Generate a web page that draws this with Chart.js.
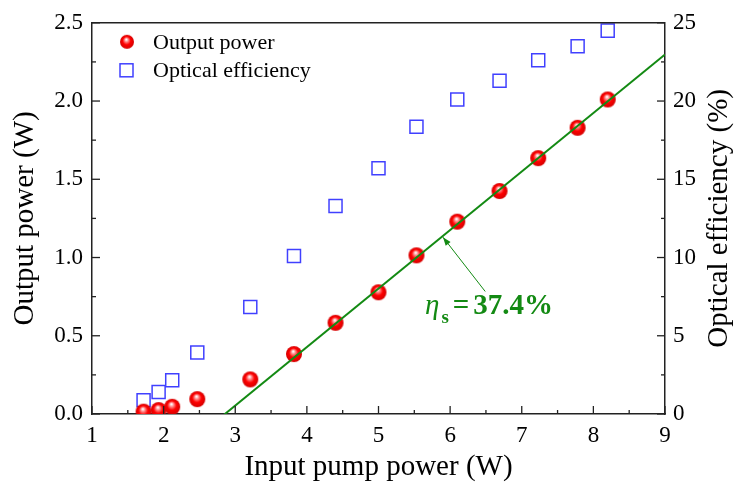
<!DOCTYPE html>
<html>
<head>
<meta charset="utf-8">
<script src="https://cdn.jsdelivr.net/npm/chart.js@4.4.1/dist/chart.umd.min.js"></script>
<style>
  html, body { margin: 0; padding: 0; background: #fff; }
  #wrap { width: 734px; height: 488px; }
</style>
</head>
<body>
<div id="wrap"><canvas id="chart"></canvas></div>
<script>
// values
const pumpPower = [1.72, 1.93, 2.12, 2.47, 3.21, 3.82, 4.40, 5.00, 5.53, 6.10, 6.69, 7.23, 7.78, 8.20];
const outputPower = [0.015, 0.025, 0.046, 0.095, 0.221, 0.383, 0.583, 0.778, 1.014, 1.229, 1.425, 1.635, 1.829, 2.01];
const opticalEff = [0.88, 1.41, 2.15, 3.93, 6.84, 10.1, 13.3, 15.7, 18.35, 20.1, 21.3, 22.6, 23.5, 24.5];
const fitX = [2.8, 9];
const fitY = [-0.021, 2.298];
const fitLabel = '37.4%';

const serif = '"Liberation Serif", "Times New Roman", serif';
const green = '#138a13';
const blue = '#4040ff';
const redSer = 'Output power';
const blueSer = 'Optical efficiency';

// shaded sphere used as point style
function makeSphere(r) {
  const c = document.createElement('canvas');
  c.width = c.height = r * 2 + 2;
  const g = c.getContext('2d');
  const cx = r + 1, cy = r + 1;
  const grad = g.createRadialGradient(cx - r * 0.1, cy - r * 0.35, r * 0.05, cx, cy, r);
  grad.addColorStop(0, '#ffffff');
  grad.addColorStop(0.25, '#ff8080');
  grad.addColorStop(0.55, '#ff0000');
  grad.addColorStop(1, '#d40000');
  g.fillStyle = grad;
  g.beginPath();
  g.arc(cx, cy, r, 0, Math.PI * 2);
  g.fill();
  return c;
}
const sphere = makeSphere(8);
const legendSphere = makeSphere(7);

const xy = (xs, ys) => xs.map((x, i) => ({ x: x, y: ys[i] }));

// inward major/minor ticks, top frame line
const frameTicks = {
  id: 'frameTicks',
  afterDraw(chart) {
    const ctx = chart.ctx;
    const a = chart.chartArea;
    ctx.save();
    ctx.strokeStyle = '#222';
    ctx.lineWidth = 1.5;
    ctx.beginPath();
    ctx.moveTo(a.left, a.top);
    ctx.lineTo(a.right, a.top);
    ctx.stroke();
    ctx.lineWidth = 1.3;
    ['x', 'y', 'y2'].forEach(id => {
      const s = chart.scales[id];
      s.ticks.forEach(t => {
        const len = t.label !== '' ? 8 : 4;
        const p = s.getPixelForValue(t.value);
        ctx.beginPath();
        if (id === 'x') { ctx.moveTo(p, a.bottom); ctx.lineTo(p, a.bottom - len); }
        else if (id === 'y') { ctx.moveTo(a.left, p); ctx.lineTo(a.left + len, p); }
        else { ctx.moveTo(a.right, p); ctx.lineTo(a.right - len, p); }
        ctx.stroke();
      });
    });
    ctx.restore();
  }
};

// legend, right title, slope annotation
const extras = {
  id: 'extras',
  afterDraw(chart) {
    const ctx = chart.ctx;
    const a = chart.chartArea;
    const sx = chart.scales.x, sy = chart.scales.y;
    ctx.save();

    // legend
    ctx.font = '22px ' + serif;
    ctx.fillStyle = '#000';
    ctx.textBaseline = 'middle';
    ctx.drawImage(legendSphere, a.left + 35 - legendSphere.width / 2, a.top + 19 - legendSphere.height / 2);
    ctx.fillText(redSer, a.left + 61, a.top + 20);
    ctx.strokeStyle = blue;
    ctx.lineWidth = 1.5;
    ctx.strokeRect(a.left + 28, a.top + 41, 13, 13);
    ctx.fillText(blueSer, a.left + 61, a.top + 48);

    // right axis title, reading bottom to top
    ctx.save();
    ctx.translate(chart.width - 15, (a.top + a.bottom) / 2);
    ctx.rotate(-Math.PI / 2);
    ctx.textAlign = 'center';
    ctx.font = '29px ' + serif;
    ctx.fillText('Optical efficiency (%)', 0, 0);
    ctx.restore();

    // arrow to the fit line
    const tx = sx.getPixelForValue(6.49), ty = sy.getPixelForValue(0.783);
    const hx = sx.getPixelForValue(5.9), hy = sy.getPixelForValue(1.13);
    ctx.strokeStyle = green;
    ctx.fillStyle = green;
    ctx.lineWidth = 1;
    ctx.beginPath();
    ctx.moveTo(tx, ty);
    ctx.lineTo(hx, hy);
    ctx.stroke();
    const ang = Math.atan2(hy - ty, hx - tx);
    ctx.beginPath();
    ctx.moveTo(hx, hy);
    ctx.lineTo(hx - 9 * Math.cos(ang - 0.35), hy - 9 * Math.sin(ang - 0.35));
    ctx.lineTo(hx - 9 * Math.cos(ang + 0.35), hy - 9 * Math.sin(ang + 0.35));
    ctx.closePath();
    ctx.fill();

    // eta_s = 37.4%
    let px = sx.getPixelForValue(5.65);
    const py = sy.getPixelForValue(0.638);
    ctx.textBaseline = 'alphabetic';
    ctx.textAlign = 'left';
    ctx.font = 'italic 29px ' + serif;
    ctx.fillText('\u03B7', px, py);
    px += ctx.measureText('\u03B7').width + 2;
    ctx.font = 'bold 19px ' + serif;
    ctx.fillText('s', px, py + 9);
    px += ctx.measureText('s').width + 4;
    ctx.font = 'bold 29px ' + serif;
    ctx.fillText('=', px, py);
    px += ctx.measureText('=').width + 4;
    ctx.fillText(fitLabel, px, py);

    ctx.restore();
  }
};

const tickFont = { family: serif, size: 23 };

new Chart(document.getElementById('chart'), {
  type: 'scatter',
  data: {
    datasets: [
      {
        label: 'fit',
        type: 'line',
        data: xy(fitX, fitY),
        borderColor: green,
        borderWidth: 2,
        pointRadius: 0,
        yAxisID: 'y',
        order: 0
      },
      {
        label: redSer,
        data: xy(pumpPower, outputPower),
        pointStyle: sphere,
        pointRadius: 8,
        yAxisID: 'y',
        order: 1
      },
      {
        label: blueSer,
        data: xy(pumpPower, opticalEff),
        pointStyle: 'rect',
        pointRadius: 9.2,
        borderColor: blue,
        backgroundColor: 'rgba(0,0,0,0)',
        borderWidth: 1.5,
        yAxisID: 'y2',
        order: 2
      }
    ]
  },
  options: {
    responsive: true,
    maintainAspectRatio: false,
    animation: false,
    devicePixelRatio: 1,
    layout: { padding: { top: 18, left: 0, right: 0, bottom: 0 } },
    plugins: { legend: { display: false }, tooltip: { enabled: false } },
    scales: {
      x: {
        type: 'linear',
        position: 'bottom',
        min: 1,
        max: 9,
        afterFit: s => { s.height = 74; },
        grid: { display: false, drawTicks: false },
        border: { display: true, color: '#222', width: 1.5 },
        ticks: {
          stepSize: 0.5,
          autoSkip: false,
          maxRotation: 0,
          padding: 8,
          color: '#000',
          font: tickFont,
          callback: v => Number.isInteger(v) ? String(v) : ''
        },
        title: {
          display: true,
          text: 'Input pump power (W)',
          color: '#000',
          font: { family: serif, size: 29 },
          padding: { top: 0, bottom: 3 }
        }
      },
      y: {
        type: 'linear',
        position: 'left',
        min: 0,
        max: 2.5,
        afterFit: s => { s.width = 92; },
        grid: { display: false, drawTicks: false },
        border: { display: true, color: '#222', width: 1.5 },
        ticks: {
          stepSize: 0.25,
          autoSkip: false,
          padding: 9,
          color: '#000',
          font: tickFont,
          callback: v => Math.abs(v * 2 - Math.round(v * 2)) < 1e-6 ? v.toFixed(1) : ''
        },
        title: {
          display: true,
          text: 'Output power (W)',
          color: '#000',
          font: { family: serif, size: 29 },
          padding: { top: 8, bottom: 0 }
        }
      },
      y2: {
        type: 'linear',
        position: 'right',
        min: 0,
        max: 25,
        afterFit: s => { s.width = 69; },
        grid: { display: false, drawTicks: false },
        border: { display: true, color: '#222', width: 1.5 },
        ticks: {
          stepSize: 2.5,
          autoSkip: false,
          padding: 8,
          color: '#000',
          font: tickFont,
          callback: v => Math.abs(v / 5 - Math.round(v / 5)) < 1e-6 ? String(Math.round(v)) : ''
        }
      }
    }
  },
  plugins: [frameTicks, extras]
});
</script>
</body>
</html>
